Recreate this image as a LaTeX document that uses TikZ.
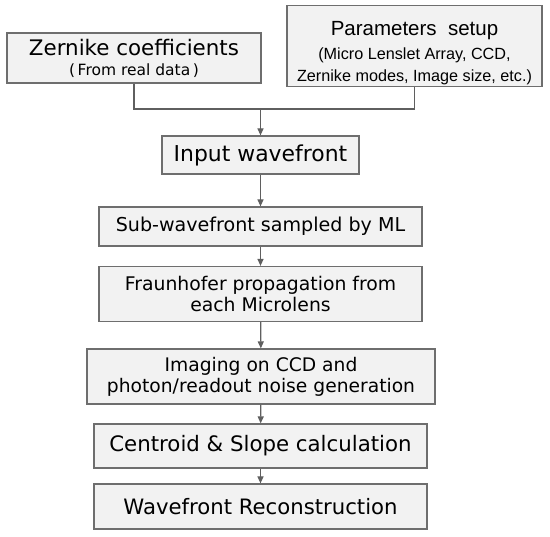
\documentclass[tikz,border=0pt]{standalone}
\usepackage{fontspec}
\setmainfont{DejaVu Sans}
\newfontfamily\arialfont{Liberation Sans}
\usetikzlibrary{arrows.meta, positioning}
\definecolor{BoxFill}{HTML}{F2F2F2}
\definecolor{BoxLine}{HTML}{6E6E6E}
\definecolor{ArrLine}{HTML}{5F5F5F}
\newcommand{\fsz}[2]{\fontsize{#1}{#2}\selectfont}

\begin{document}
\begin{tikzpicture}[
  x=1pt, y=-1pt,
  every node/.style={font=\fsz{19}{21}},
  sbox/.style={draw=BoxLine, fill=BoxFill, line width=1.2pt,
               align=center, inner sep=2pt, text=black},
  arr/.style={-{Triangle[length=7pt, width=6pt]}, line width=1.2pt, color=ArrLine},
  lnk/.style={line width=1.2pt, color=ArrLine},
]
  \useasboundingbox (0,0) rectangle (550,537);
  \node[sbox, minimum width=254pt, minimum height=50pt, font=\fsz{21.4}{22}] (zern) at (134,58) {
    Zernike coefficients\\[-2pt]
    {\fsz{15.5}{17}(\,From real data\,)}
  };
  \node[sbox, minimum width=255pt, minimum height=72pt,
        font=\arialfont\fsz{20.5}{22}] (param) at (414.5,46) {
    \rule{0pt}{28pt}Parameters\ \ setup\\[2pt]
    {\fsz{16.2}{16}(Micro Lenslet Array, CCD,}\\
    {\fsz{16.2}{16}Zernike modes, Image size, etc.)}
  };
  \node[sbox, minimum width=197pt, minimum height=38pt, font=\fsz{21.9}{23}] (input) at (260.5,155)
    {Input wavefront};
  \node[sbox, minimum width=323pt, minimum height=39pt, font=\fsz{19.1}{21}] (sub) at (260.5,226.5)
    {Sub-wavefront sampled by ML};
  \node[sbox, minimum width=323pt, minimum height=55pt, font=\fsz{18.8}{21}] (fraun) at (260.5,294)
    {Fraunhofer propagation from\\each Microlens};
  \node[sbox, minimum width=348pt, minimum height=55pt, font=\fsz{18.7}{21}] (img) at (261,376.5)
    {Imaging on CCD and\\photon/readout noise generation};
  \node[sbox, minimum width=333pt, minimum height=44pt, font=\fsz{21.3}{23}] (cent) at (260.5,446)
    {Centroid \& Slope calculation};
  \node[sbox, minimum width=333pt, minimum height=45pt, font=\fsz{21.2}{23}] (recon) at (260.5,506.5)
    {Wavefront Reconstruction};

  \coordinate (join) at (260.5,109);
  \draw[lnk] (zern.south) |- (join) -| (param.south);
  \draw[arr] (join) -- (input.north);
  \draw[arr] (input) -- (sub);
  \draw[arr] (sub) -- (fraun);
  \draw[arr] (fraun) -- (img);
  \draw[arr] (img) -- (cent);
  \draw[arr] (cent) -- (recon);
\end{tikzpicture}
\end{document}
